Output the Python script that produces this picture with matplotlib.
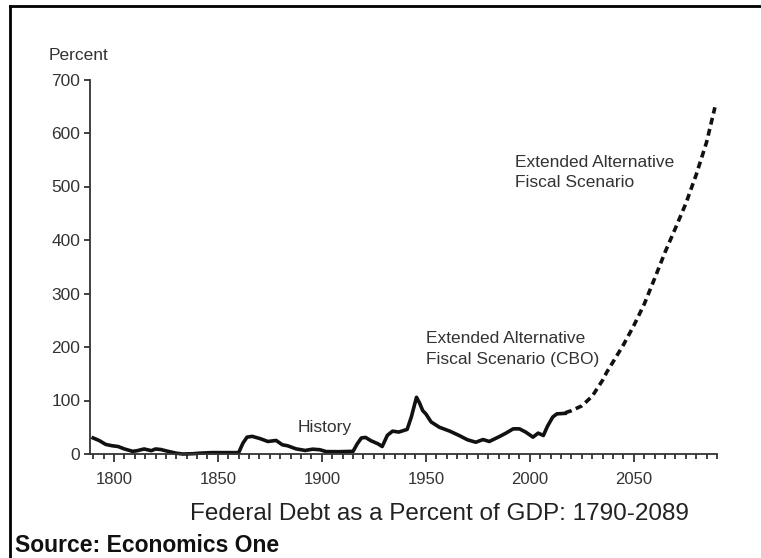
import matplotlib
matplotlib.use("Agg")
import matplotlib.pyplot as plt
from matplotlib.lines import Line2D
from matplotlib.ticker import MultipleLocator

plt.rcParams['font.family'] = ['Liberation Sans', 'DejaVu Sans']

# Historical federal debt (% of GDP)
hist_years = [1790, 1793, 1796, 1799, 1802, 1805, 1809, 1811, 1814.5, 1818, 1820, 1822.5,
              1826, 1830, 1833, 1838, 1841, 1847, 1854, 1860, 1862, 1864, 1866.5, 1870.5,
              1874, 1878, 1881, 1883.5, 1887.5, 1892, 1895.5, 1899, 1902, 1908, 1915,
              1917, 1919, 1921, 1923.5, 1927, 1929, 1931.5, 1934, 1937, 1941, 1943,
              1945.5, 1947, 1948.5, 1950, 1952.5, 1956.5, 1961.5, 1966, 1970, 1974,
              1977.5, 1980.5, 1985.5, 1988.5, 1992, 1995, 1998, 2001.5, 2004, 2006.5,
              2008.5, 2011, 2013, 2017]
hist_vals = [30, 25, 18, 15.5, 14, 9.5, 5, 6, 9.4, 6.2, 9.4, 8.4,
             5, 1.5, 0, 0.5, 1.5, 2.6, 2.6, 2.6, 20, 31.5, 33, 28.5,
             23.4, 25.3, 17.2, 15.4, 9.7, 6.6, 9, 8, 4.5, 4.3, 5,
             19, 30, 31, 25, 19, 14, 35, 42.7, 41, 46, 69,
             106, 95, 81, 75, 60, 50, 42.7, 34.6, 26.6, 22,
             27, 23.4, 32.8, 39, 47, 47, 41, 31.5, 39, 34.6,
             52, 69, 75, 76]

# Extended alternative fiscal scenario (CBO) projection
proj_years = [2017, 2020, 2025, 2030, 2035, 2037, 2040, 2045, 2050, 2055, 2060, 2065,
              2070, 2075, 2080, 2085, 2089]
proj_vals = [77, 81, 90, 108, 138, 153, 172, 204, 240, 280, 328, 377,
             422, 468, 522, 583, 648]

y_ticks = [0, 100, 200, 300, 400, 500, 600, 700]
x_ticks = [1800, 1850, 1900, 1950, 2000, 2050]

W, H = 761, 558
fig = plt.figure(figsize=(W / 100, H / 100), dpi=100)
fig.patch.set_facecolor('white')

ax = fig.add_axes([90 / W, 1 - 454 / H, (717 - 90) / W, (454 - 79.5) / H])
ax.set_xlim(1788.5, 2090)
ax.set_ylim(0, 700)

ink = '#111111'
txt = '#333333'
ax.plot(hist_years, hist_vals, color=ink, lw=2.6, solid_joinstyle='round', clip_on=False)
ax.plot(proj_years, proj_vals, color=ink, lw=2.6, dashes=(1.9, 1.25), clip_on=False)

for s in ['top', 'right']:
    ax.spines[s].set_visible(False)
for s in ['left', 'bottom']:
    ax.spines[s].set_color('#333333')
    ax.spines[s].set_linewidth(1.3)

ax.set_yticks(y_ticks)
ax.set_xticks(x_ticks)
ax.xaxis.set_minor_locator(MultipleLocator(5))
ax.tick_params(axis='y', direction='out', length=4, width=1.3, color='#333333',
               labelsize=12.5, labelcolor=txt, pad=3)
ax.tick_params(axis='x', which='major', direction='out', length=6, width=1.3,
               color='#333333', labelsize=12, labelcolor=txt, pad=7)
ax.tick_params(axis='x', which='minor', direction='out', length=3.5, width=1.3,
               color='#333333')

ax.text(1888.2, 49, 'History', fontsize=12.5, color=txt, ha='left', va='center')
ax.text(1950.3, 196, 'Extended Alternative\nFiscal Scenario (CBO)', fontsize=12.5,
        color=txt, ha='left', va='center', linespacing=1.45)
ax.text(1992.7, 526, 'Extended Alternative\nFiscal Scenario', fontsize=12.5,
        color=txt, ha='left', va='center', linespacing=1.45)

fig.text(79 / W, 1 - 55 / H, 'Percent', fontsize=12.5, color=txt, ha='center', va='center')
fig.text(439 / W, 1 - 514 / H, 'Federal Debt as a Percent of GDP: 1790-2089',
         fontsize=17.5, color='#222222', ha='center', va='center')
fig.text(15 / W, 1 - 546 / H, 'Source: Economics One', fontsize=16.5, fontweight='bold',
         color='#111111', ha='left', va='center')

# frame lines (top and left)
fig.add_artist(Line2D([9.5 / W, 1.0], [1 - 6 / H, 1 - 6 / H], color='black', lw=2.0,
                      transform=fig.transFigure))
fig.add_artist(Line2D([9.5 / W, 9.5 / W], [1 - 6 / H, 0], color='black', lw=2.0,
                      transform=fig.transFigure))

fig.savefig('out.png', dpi=100, facecolor='white')
